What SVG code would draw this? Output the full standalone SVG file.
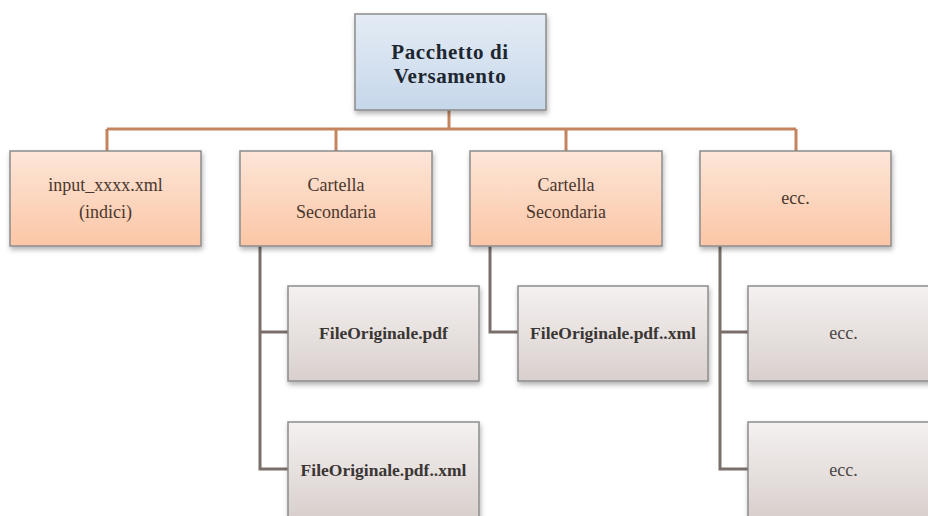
<svg xmlns="http://www.w3.org/2000/svg" width="928" height="516" viewBox="0 0 928 516">
<defs>
<linearGradient id="gBlue" x1="0" y1="0" x2="0" y2="1"><stop offset="0" stop-color="#e4ecf5"/><stop offset="1" stop-color="#c6d7ea"/></linearGradient>
<linearGradient id="gPeach" x1="0" y1="0" x2="0" y2="1"><stop offset="0" stop-color="#fde6d8"/><stop offset="1" stop-color="#fbc6a6"/></linearGradient>
<linearGradient id="gGrey" x1="0" y1="0" x2="0" y2="1"><stop offset="0" stop-color="#f4f1f0"/><stop offset="1" stop-color="#d9d0cd"/></linearGradient>
<filter id="sh" x="-10%" y="-10%" width="125%" height="130%"><feDropShadow dx="1" dy="3" stdDeviation="2.5" flood-color="#000" flood-opacity="0.3"/></filter>
<style>
.box{stroke:#8c8c8c;stroke-width:1.5;filter:url(#sh)}
.top{fill:url(#gBlue)}
.l1{fill:url(#gPeach)}
.l2{fill:url(#gGrey)}
.t0{font-family:"Liberation Serif",serif;font-weight:bold;font-size:21px;letter-spacing:0.6px;fill:#1e2630;text-anchor:middle}
.t1{font-family:"Liberation Serif",serif;font-size:18px;fill:#4a372e;text-anchor:middle}
.t2{font-family:"Liberation Serif",serif;font-weight:bold;font-size:17.5px;fill:#3a3634;text-anchor:middle}
.t3{font-family:"Liberation Serif",serif;font-size:18px;fill:#4a4644;text-anchor:middle}
.c1{fill:none;stroke:#c4855e;stroke-width:3}
.c2{fill:none;stroke:#7a6f6a;stroke-width:3}
</style>
</defs>
<g id="connectors">
<path class="c1" d="M449 110V129M107 129H796M107 129V151M336 129V151M566 129V151M796 129V151"/>
<path class="c2" d="M260 246V469H288M260 332H288"/>
<path class="c2" d="M490 246V332H518"/>
<path class="c2" d="M720 246V469H748M720 332H748"/>
</g>
<g id="n-root"><rect class="box top" x="355" y="14" width="191" height="96"/><text class="t0" x="450" y="59">Pacchetto di</text><text class="t0" x="450" y="83">Versamento</text></g>
<g id="n-input"><rect class="box l1" x="10" y="151" width="191" height="95"/><text class="t1" x="105.5" y="191">input_xxxx.xml</text><text class="t1" x="105.5" y="218">(indici)</text></g>
<g id="n-cart1"><rect class="box l1" x="240" y="151" width="192" height="95"/><text class="t1" x="336" y="191">Cartella</text><text class="t1" x="336" y="218">Secondaria</text></g>
<g id="n-cart2"><rect class="box l1" x="470" y="151" width="192" height="95"/><text class="t1" x="566" y="191">Cartella</text><text class="t1" x="566" y="218">Secondaria</text></g>
<g id="n-ecc"><rect class="box l1" x="700" y="151" width="191" height="95"/><text class="t1" x="795.5" y="204">ecc.</text></g>
<g id="n-f1"><rect class="box l2" x="288" y="286" width="191" height="95"/><text class="t2" x="383.5" y="339">FileOriginale.pdf</text></g>
<g id="n-f2"><rect class="box l2" x="288" y="422" width="191" height="96"/><text class="t2" x="383.5" y="476">FileOriginale.pdf..xml</text></g>
<g id="n-f3"><rect class="box l2" x="518" y="286" width="190" height="95"/><text class="t2" x="613" y="339">FileOriginale.pdf..xml</text></g>
<g id="n-e1"><rect class="box l2" x="748" y="286" width="191" height="95"/><text class="t3" x="843.5" y="339">ecc.</text></g>
<g id="n-e2"><rect class="box l2" x="748" y="422" width="191" height="96"/><text class="t3" x="843.5" y="476">ecc.</text></g>
</svg>
